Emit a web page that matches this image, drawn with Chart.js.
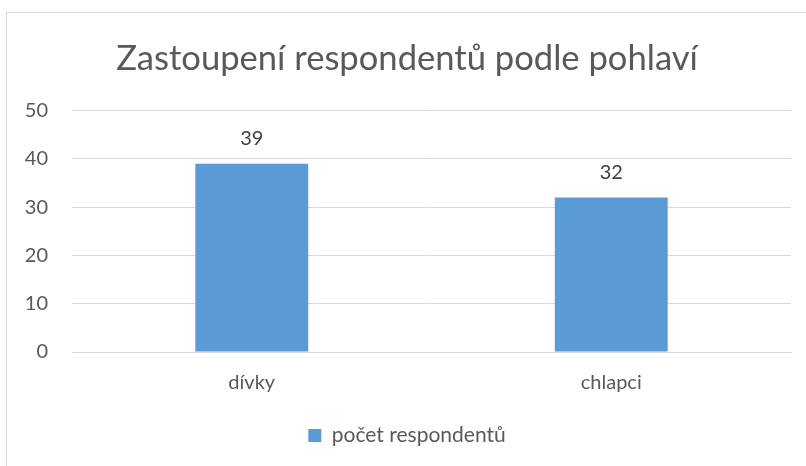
<!DOCTYPE html>
<html>
<head>
<meta charset="utf-8">
<script src="https://cdn.jsdelivr.net/npm/chart.js@4"></script>
<style>
  body { margin: 0; background: #fff; }
  #frame { position: absolute; left: 6px; top: 12px; width: 820px; height: 480px; border-left: 1px solid #d9d9d9; border-top: 1px solid #d9d9d9; }
  #wrap { position: absolute; left: 0; top: 0; width: 806px; height: 466px; }
</style>
</head>
<body>
<div id="frame"></div>
<div id="wrap"><canvas id="chart"></canvas></div>
<script>
const categories = ["dívky", "chlapci"];
const counts = [39, 32];
const yTicks = [0, 10, 20, 30, 40, 50];

const fontFamily = "Lato, sans-serif";
const textColor = "#595959";

// draws the value above each bar
const barValues = {
  id: "barValues",
  afterDatasetsDraw(chart) {
    const ctx = chart.ctx;
    const meta = chart.getDatasetMeta(0);
    ctx.save();
    ctx.font = "20px " + fontFamily;
    ctx.fillStyle = "#404040";
    ctx.textAlign = "center";
    ctx.textBaseline = "middle";
    meta.data.forEach((bar, i) => {
      ctx.fillText(counts[i], bar.x, bar.y - 25);
    });
    ctx.restore();
  }
};

new Chart(document.getElementById("chart"), {
  type: "bar",
  data: {
    labels: categories,
    datasets: [{
      label: "počet respondentů",
      data: counts,
      backgroundColor: "#5b9bd5",
      categoryPercentage: 1,
      barPercentage: 0.314
    }]
  },
  options: {
    responsive: true,
    maintainAspectRatio: false,
    animation: false,
    layout: { padding: { left: 23, right: 15, top: 38, bottom: 10 } },
    plugins: {
      title: {
        display: true,
        text: "Zastoupení respondentů podle pohlaví",
        color: textColor,
        font: { family: fontFamily, size: 34.6, weight: "normal" },
        padding: { top: 0, bottom: 31 }
      },
      legend: {
        position: "bottom",
        labels: {
          color: textColor,
          font: { family: fontFamily, size: 21 },
          boxWidth: 13,
          boxHeight: 13,
          padding: 10
        }
      },
      tooltip: { enabled: false }
    },
    scales: {
      x: {
        grid: { display: false },
        border: { display: true, color: "#d9d9d9" },
        afterFit(axis) { axis.height += 9; },
        ticks: { color: textColor, font: { family: fontFamily, size: 20 }, padding: 11 }
      },
      y: {
        min: 0,
        max: 50,
        afterBuildTicks(axis) { axis.ticks = yTicks.map(v => ({ value: v })); },
        afterFit(axis) { axis.width = 49; },
        grid: { color: "#d9d9d9", lineWidth: 1, drawTicks: false },
        border: { display: false },
        ticks: { color: textColor, font: { family: fontFamily, size: 20 }, padding: 24 }
      }
    }
  },
  plugins: [barValues]
});
</script>
</body>
</html>
